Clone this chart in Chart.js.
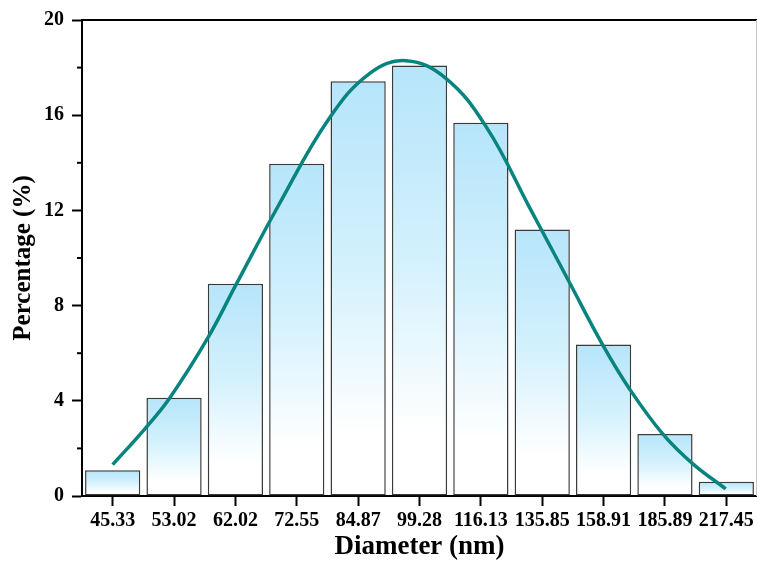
<!DOCTYPE html>
<html>
<head>
<meta charset="utf-8">
<script src="https://cdn.jsdelivr.net/npm/chart.js@4/dist/chart.umd.min.js"></script>
<style>
  html, body { margin: 0; padding: 0; background: #fff; }
  #wrap { width: 757px; height: 563px; }
</style>
</head>
<body>
<div id="wrap"><canvas id="c" width="757" height="563"></canvas></div>
<script>
// ---- data ----
const categories = ['45.33','53.02','62.02','72.55','84.87','99.28','116.13','135.85','158.91','185.89','217.45'];
const percentages = [1.08, 4.13, 8.92, 13.96, 17.43, 18.09, 15.68, 11.20, 6.37, 2.61, 0.60];
// fitted curve, x given as position along the category axis (0 = first category)
const fitPos = [0.00, 0.50, 0.93, 1.55, 2.01, 2.72, 3.53, 4.19, 4.78, 5.43, 6.09, 6.79, 7.44, 7.99, 8.42, 8.96, 9.45, 9.99];
const fitVal = [1.32, 2.75, 4.12, 6.64, 8.88, 12.29, 15.87, 17.76, 18.29, 17.55, 15.50, 12.14, 8.99, 6.33, 4.51, 2.62, 1.36, 0.30];
const yTicks = [0, 4, 8, 12, 16, 20];
const yMinorTicks = [2, 6, 10, 14, 18];

const fontFam = "'Liberation Serif', 'Times New Roman', serif";

const framePlugin = {
  id: 'frame',
  afterDraw(chart) {
    const {ctx, chartArea: a, scales} = chart;
    ctx.save();
    ctx.strokeStyle = '#000';
    ctx.lineWidth = 2;
    ctx.beginPath();
    ctx.moveTo(a.left, a.top);
    ctx.lineTo(a.right, a.top);
    ctx.stroke();
    // minor ticks
    yMinorTicks.forEach(v => {
      const py = scales.y.getPixelForValue(v);
      ctx.beginPath();
      ctx.moveTo(a.left - 5, py);
      ctx.lineTo(a.left, py);
      ctx.stroke();
    });
    ctx.strokeStyle = '#c8c8c8';
    ctx.lineWidth = 1;
    ctx.beginPath();
    ctx.moveTo(a.right - 0.5, a.top);
    ctx.lineTo(a.right - 0.5, a.bottom);
    ctx.stroke();
    ctx.restore();
  }
};

const rows = fitPos.map((p, i) => ({x: p, y: fitVal[i]}));

new Chart(document.getElementById('c'), {
  data: {
    labels: categories,
    datasets: [
      {
        type: 'line',
        data: rows,
        xAxisID: 'x2',
        yAxisID: 'y',
        borderColor: '#08847f',
        borderWidth: 3.5,
        pointRadius: 0,
        tension: 0.4,
        fill: false,
        order: 0
      },
      {
        type: 'bar',
        data: percentages,
        xAxisID: 'x',
        yAxisID: 'y',
        grouped: false,
        barPercentage: 0.9,
        categoryPercentage: 1.0,
        borderColor: '#3a3a3a',
        borderWidth: 1.5,
        borderSkipped: false,
        backgroundColor: (c) => {
          const chart = c.chart;
          const ys = chart.scales && chart.scales.y;
          if (!ys || c.type !== 'data' || c.raw == null) return '#c8ecfb';
          const top = ys.getPixelForValue(c.raw);
          const base = ys.getPixelForValue(0);
          if (!isFinite(top) || !isFinite(base) || base - top < 1) return '#c8ecfb';
          const g = chart.ctx.createLinearGradient(0, top, 0, base);
          g.addColorStop(0, '#b6e5fa');
          g.addColorStop(0.45, '#d3f1fd');
          g.addColorStop(0.85, '#ffffff');
          g.addColorStop(1, '#ffffff');
          return g;
        },
        order: 1
      }
    ]
  },
  options: {
    responsive: false,
    animation: false,
    layout: { padding: { top: 20, right: 0, bottom: 0, left: 0 } },
    plugins: {
      legend: { display: false },
      tooltip: { enabled: false }
    },
    scales: {
      x: {
        type: 'category',
        offset: true,
        grid: { display: true, drawOnChartArea: false, offset: false, tickLength: 10, tickWidth: 2, tickColor: '#000' },
        border: { display: true, color: '#000', width: 2 },
        ticks: { color: '#000', padding: 3, maxRotation: 0, autoSkip: false, font: { family: fontFam, size: 20, weight: 'bold' } },
        title: { display: true, text: 'Diameter (nm)', color: '#000', padding: { top: 0, bottom: 0 }, font: { family: fontFam, size: 27, weight: 'bold' } },
        afterFit(s) { s.height = 67; }
      },
      x2: {
        type: 'linear',
        display: false,
        min: -0.5,
        max: categories.length - 0.5
      },
      y: {
        type: 'linear',
        min: 0,
        max: 20,
        afterBuildTicks(s) { s.ticks = yTicks.map(v => ({value: v})); },
        grid: { display: true, drawOnChartArea: false, tickLength: 10, tickWidth: 2, tickColor: '#000' },
        border: { display: true, color: '#000', width: 2 },
        ticks: { color: '#000', padding: 8, font: { family: fontFam, size: 20, weight: 'bold' } },
        title: { display: true, text: 'Percentage (%)', color: '#000', padding: { top: 9, bottom: 0 }, font: { family: fontFam, size: 25, weight: 'bold' } },
        afterFit(s) { s.width = 82; }
      }
    }
  },
  plugins: [framePlugin]
});
</script>
</body>
</html>
